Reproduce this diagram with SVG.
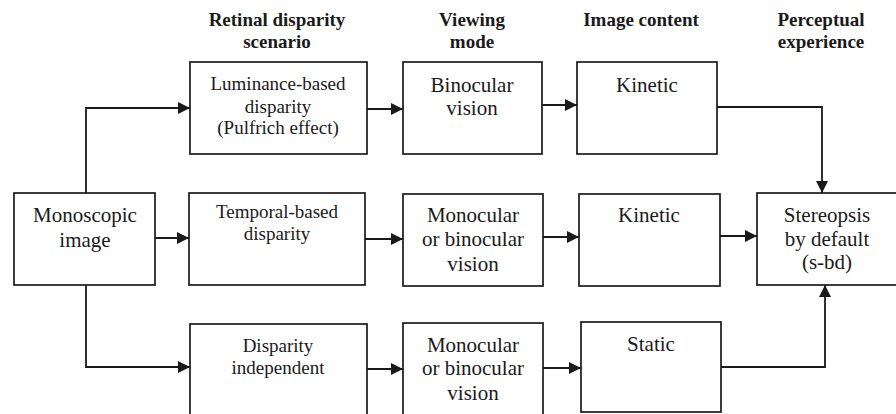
<svg xmlns="http://www.w3.org/2000/svg" width="896" height="414" viewBox="0 0 896 414">
<defs>
<marker id="ah" markerWidth="13" markerHeight="13" refX="12" refY="6.5" orient="auto" markerUnits="userSpaceOnUse">
<path d="M0,0.5 L12,6.5 L0,12.5 Z" fill="#1a1a1a"/>
</marker>
<style>
.box{fill:#fff;stroke:#1a1a1a;stroke-width:1.7}
.t{font-family:"Liberation Serif","Times New Roman",serif;font-size:21px;fill:#1a1a1a;text-anchor:middle}
.s{font-size:19px}
.h{font-family:"Liberation Serif","Times New Roman",serif;font-size:19px;font-weight:bold;fill:#1a1a1a;text-anchor:middle}
.c{fill:none;stroke:#1a1a1a;stroke-width:1.8}
.a{marker-end:url(#ah)}
</style>
</defs>
<rect width="896" height="414" fill="#fff"/>
<g id="headers">
<text class="h" x="277" y="26">Retinal disparity</text>
<text class="h" x="277" y="48">scenario</text>
<text class="h" x="472" y="26">Viewing</text>
<text class="h" x="472" y="48">mode</text>
<text class="h" x="641" y="26">Image content</text>
<text class="h" x="821" y="26">Perceptual</text>
<text class="h" x="821" y="48">experience</text>
</g>
<g id="connectors">
<path class="c a" d="M86,193 V108 H190"/>
<path class="c a" d="M86,285 V367 H190"/>
<path class="c a" d="M155,238 H189"/>
<path class="c a" d="M367,109 H403"/>
<path class="c a" d="M365,239 H403"/>
<path class="c a" d="M367,369 H403"/>
<path class="c a" d="M542,105 H577"/>
<path class="c a" d="M543,237 H579"/>
<path class="c a" d="M543,368 H581"/>
<path class="c a" d="M717,107 H822 V193"/>
<path class="c a" d="M720,236 H757"/>
<path class="c a" d="M721,367 H825 V285"/>
</g>
<g id="monoscopic">
<rect class="box" x="14" y="193" width="141" height="92"/>
<text class="t" x="85" y="222">Monoscopic</text>
<text class="t" x="85" y="247">image</text>
</g>
<g id="luminance">
<rect class="box" x="190" y="62" width="177" height="92"/>
<text class="t s" x="278" y="90">Luminance-based</text>
<text class="t s" x="278" y="113">disparity</text>
<text class="t s" x="278" y="134">(Pulfrich effect)</text>
</g>
<g id="temporal">
<rect class="box" x="189" y="193" width="176" height="92"/>
<text class="t s" x="277" y="218">Temporal-based</text>
<text class="t s" x="277" y="240">disparity</text>
</g>
<g id="independent">
<rect class="box" x="190" y="324" width="177" height="100"/>
<text class="t s" x="278" y="352">Disparity</text>
<text class="t s" x="278" y="374">independent</text>
</g>
<g id="binocular">
<rect class="box" x="403" y="62" width="139" height="92"/>
<text class="t" x="472" y="92">Binocular</text>
<text class="t" x="472" y="115">vision</text>
</g>
<g id="monobin1">
<rect class="box" x="403" y="194" width="140" height="92"/>
<text class="t" x="473" y="222">Monocular</text>
<text class="t" x="473" y="246">or binocular</text>
<text class="t" x="473" y="271">vision</text>
</g>
<g id="monobin2">
<rect class="box" x="403" y="323" width="140" height="100"/>
<text class="t" x="473" y="352">Monocular</text>
<text class="t" x="473" y="375">or binocular</text>
<text class="t" x="473" y="400">vision</text>
</g>
<g id="kinetic1">
<rect class="box" x="577" y="62" width="140" height="92"/>
<text class="t" x="647" y="92">Kinetic</text>
</g>
<g id="kinetic2">
<rect class="box" x="579" y="194" width="141" height="92"/>
<text class="t" x="649" y="222">Kinetic</text>
</g>
<g id="static">
<rect class="box" x="581" y="322" width="140" height="90"/>
<text class="t" x="651" y="351">Static</text>
</g>
<g id="stereopsis">
<rect class="box" x="757" y="193" width="142" height="92"/>
<text class="t" x="827" y="222">Stereopsis</text>
<text class="t" x="827" y="246">by default</text>
<text class="t" x="827" y="269">(s-bd)</text>
</g>
</svg>
